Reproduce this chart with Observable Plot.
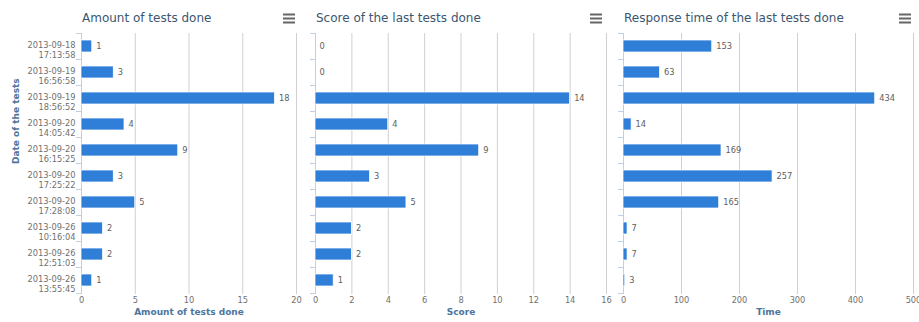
<!DOCTYPE html>
<html>
<head>
<meta charset="utf-8">
<script src="https://cdn.jsdelivr.net/npm/d3@7"></script>
<script src="https://cdn.jsdelivr.net/npm/@observablehq/plot@0.6"></script>
<style>
  html, body { margin: 0; padding: 0; background: #fff; }
  #wrap { position: relative; width: 919px; height: 322px; overflow: hidden; font-family: "DejaVu Sans", sans-serif; }
  .panel { position: absolute; top: 0; height: 322px; }
  .title { position: absolute; top: 11px; font-size: 12px; line-height: 14px; color: #3b5670; white-space: nowrap; }
  .menu { position: absolute; top: 13px; width: 12px; height: 11px; }
  svg.plot { overflow: visible; }
</style>
</head>
<body>
<div id="wrap"></div>
<script>
const dates = ["2013-09-18","2013-09-19","2013-09-19","2013-09-20","2013-09-20","2013-09-20","2013-09-20","2013-09-26","2013-09-26","2013-09-26"];
const times = ["17:13:58","16:56:58","18:56:52","14:05:42","16:15:25","17:25:22","17:28:08","10:16:04","12:51:03","13:55:45"];
const amounts = [1,3,18,4,9,3,5,2,2,1];
const scores = [0,0,14,4,9,3,5,2,2,1];
const responseTimes = [153,63,434,14,169,257,165,7,7,3];
const amountTicks = [0,5,10,15,20];
const scoreTicks = [0,2,4,6,8,10,12,14,16];
const timeTicks = [0,100,200,300,400,500];
const titles = ["Amount of tests done","Score of the last tests done","Response time of the last tests done"];
const xLabels = ["Amount of tests done","Score","Time"];
const yLabel = "Date of the tests";

const cats = dates.map((d, i) => d + "\n" + times[i]);
const H = 322, MT = 33, MB = 28;
const half = (H - MT - MB) / cats.length / 2;

function panel({values, ticks, xLabel, showY, width, marginLeft, marginRight}) {
  const rows = values.map((v, i) => ({cat: cats[i], v}));
  return Plot.plot({
    width, height: H, marginTop: MT, marginBottom: MB, marginLeft, marginRight,
    style: {fontFamily: "DejaVu Sans", fontSize: "8.25px", background: "transparent", overflow: "visible"},
    x: {domain: [ticks[0], ticks[ticks.length - 1]]},
    y: {domain: cats, paddingInner: 0.52, paddingOuter: 0.26},
    marks: [
      Plot.gridX(ticks, {stroke: "#d0d0d0", strokeOpacity: 1}),
      Plot.ruleX([0], {stroke: "#C0D0E0"}),
      Plot.axisY({tickSize: 5, tickFormat: () => "", label: null, stroke: "#C0D0E0", dy: -half}),
      Plot.axisY({tickSize: 5, tickFormat: () => "", label: null, stroke: "#C0D0E0", dy: half}),
      Plot.barX(rows, {x: "v", y: "cat", fill: "#2f7ed8", stroke: "white", strokeWidth: 0.75}),
      Plot.text(rows, {x: "v", y: "cat", text: d => String(d.v), textAnchor: "start", dx: 4, fill: "#606060"}),
      Plot.axisX({ticks, tickSize: 0, tickPadding: 3, fill: "#707070", label: null}),
      Plot.text([xLabel], {frameAnchor: "bottom", dy: 20, fontWeight: "bold", fill: "#4d759e", fontSize: 9}),
      showY ? Plot.axisY({tickSize: 0, tickPadding: 6, fill: "#707070", label: null, lineHeight: 1.2, dy: 3}) : null,
      showY ? Plot.text([yLabel], {frameAnchor: "left", dx: -65, rotate: -90, fontWeight: "bold", fill: "#4d759e", fontSize: 9}) : null
    ]
  });
}

const specs = [
  {left: 0, width: 306, marginLeft: 81, marginRight: 10, values: amounts, ticks: amountTicks, showY: true, menuX: 283},
  {left: 306, width: 306, marginLeft: 9, marginRight: 6, values: scores, ticks: scoreTicks, showY: false, menuX: 590},
  {left: 612, width: 307, marginLeft: 11, marginRight: 6, values: responseTimes, ticks: timeTicks, showY: false, menuX: 899}
];

const wrap = document.getElementById("wrap");
specs.forEach((s, i) => {
  const div = document.createElement("div");
  div.className = "panel";
  div.style.left = s.left + "px";
  div.style.width = s.width + "px";
  div.appendChild(panel({values: s.values, ticks: s.ticks, xLabel: xLabels[i], showY: s.showY, width: s.width, marginLeft: s.marginLeft, marginRight: s.marginRight}));
  wrap.appendChild(div);
  const t = document.createElement("div");
  t.className = "title";
  t.style.left = (s.left + s.marginLeft + 1) + "px";
  t.textContent = titles[i];
  wrap.appendChild(t);
  const m = document.createElementNS("http://www.w3.org/2000/svg", "svg");
  m.setAttribute("class", "menu");
  m.setAttribute("width", 12); m.setAttribute("height", 11);
  m.style.left = s.menuX + "px";
  m.innerHTML = '<rect x="0" y="0.5" width="12" height="2" fill="#666"/><rect x="0" y="4.5" width="12" height="2" fill="#666"/><rect x="0" y="8.5" width="12" height="2" fill="#666"/>';
  wrap.appendChild(m);
});
</script>
</body>
</html>
